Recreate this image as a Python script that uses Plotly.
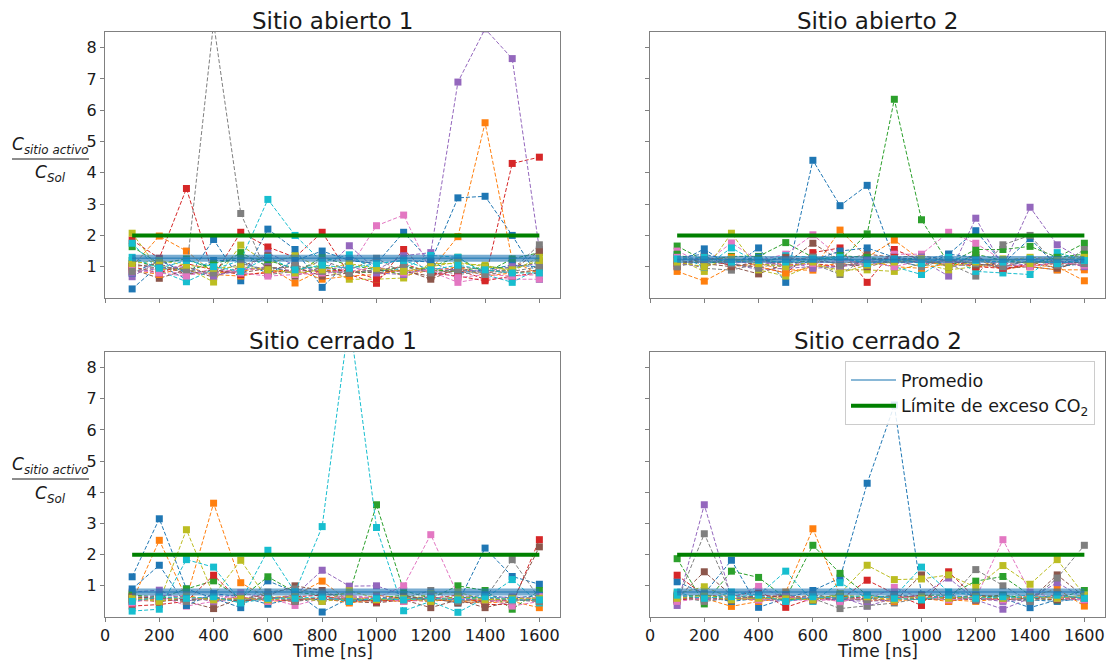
import plotly.graph_objects as go

# ---------------- data ----------------
times = [100, 200, 300, 400, 500, 600, 700, 800, 900, 1000, 1100, 1200, 1300, 1400, 1500, 1600]

TAB10 = ["#1f77b4", "#ff7f0e", "#2ca02c", "#d62728", "#9467bd",
         "#8c564b", "#e377c2", "#7f7f7f", "#bcbd22", "#17becf"]

panel_titles = ["Sitio abierto 1", "Sitio abierto 2", "Sitio cerrado 1", "Sitio cerrado 2"]

abierto1 = [
    [0.29, 1.05, 0.6, 1.87, 0.55, 2.2, 1.55, 0.34, 1.2, 1.1, 2.1, 1.15, 3.2, 3.25, 2.0, 0.6],
    [1.0, 1.98, 1.5, 0.8, 0.85, 1.0, 0.48, 0.9, 0.8, 1.0, 0.7, 0.9, 1.96, 5.6, 1.2, 0.75],
    [1.64, 1.1, 1.25, 0.9, 1.45, 1.0, 0.8, 1.3, 1.05, 0.9, 0.75, 1.0, 1.3, 0.8, 1.25, 1.45],
    [1.85, 1.27, 3.5, 0.7, 2.1, 1.63, 1.3, 2.1, 0.75, 0.47, 1.55, 0.7, 0.9, 0.6, 4.3, 4.5],
    [0.68, 1.2, 0.85, 0.75, 0.85, 1.43, 1.05, 0.8, 1.67, 0.9, 1.35, 1.45, 6.9, 8.6, 7.65, 1.55],
    [0.92, 0.63, 0.9, 0.67, 1.0, 1.35, 0.7, 1.0, 0.85, 0.8, 0.9, 0.6, 0.95, 0.8, 0.9, 1.5],
    [1.1, 0.9, 0.75, 0.8, 0.93, 0.9, 0.8, 0.75, 0.95, 2.31, 2.65, 0.85, 0.5, 0.65, 0.6, 0.6],
    [1.09, 0.95, 0.85, 8.8, 2.7, 0.75, 0.85, 1.2, 0.9, 1.27, 0.8, 0.95, 0.75, 0.85, 0.9, 1.7],
    [2.07, 0.9, 0.97, 0.51, 1.69, 1.1, 1.35, 0.95, 0.6, 0.6, 0.64, 1.1, 1.1, 1.05, 0.85, 1.3],
    [1.75, 0.87, 0.52, 0.92, 1.2, 3.15, 2.0, 1.15, 1.38, 0.85, 0.95, 1.36, 1.3, 0.75, 0.5, 0.95],
    [0.79, 1.2, 0.8, 1.2, 1.2, 0.78, 1.2, 1.5, 1.2, 1.1, 1.2, 1.15, 0.8, 0.9, 1.05, 1.0],
    [0.9, 0.75, 1.0, 0.75, 0.7, 0.85, 0.9, 0.6, 0.7, 0.75, 0.9, 0.85, 1.0, 0.7, 0.8, 0.85],
    [1.2, 1.0, 0.9, 1.1, 1.3, 1.2, 0.95, 1.0, 0.8, 0.85, 1.0, 0.9, 0.85, 1.0, 0.95, 1.15],
    [1.0, 0.8, 1.1, 0.9, 0.75, 0.8, 0.9, 0.85, 0.9, 0.6, 1.1, 0.8, 0.7, 0.55, 0.7, 0.8],
    [0.8, 0.95, 1.0, 0.7, 0.9, 1.0, 0.85, 0.9, 1.0, 0.8, 0.75, 0.95, 0.9, 0.85, 1.0, 1.1],
    [1.0, 1.1, 0.75, 0.9, 0.8, 0.95, 1.0, 0.7, 0.8, 0.9, 0.85, 0.7, 1.0, 0.9, 0.8, 0.9],
    [0.9, 0.8, 0.7, 0.95, 0.8, 0.7, 0.75, 0.8, 0.85, 1.0, 0.8, 0.9, 0.65, 0.75, 0.7, 0.75],
    [0.85, 1.0, 0.9, 0.8, 1.1, 0.9, 1.05, 0.85, 0.8, 0.9, 1.0, 0.8, 0.9, 0.75, 0.85, 1.0],
    [1.1, 1.2, 1.05, 0.95, 1.0, 0.9, 0.8, 0.9, 1.1, 0.95, 0.85, 1.0, 1.15, 1.0, 0.9, 1.2],
    [1.3, 0.95, 1.2, 1.0, 0.85, 1.3, 0.9, 1.05, 0.95, 1.1, 1.2, 0.9, 1.05, 0.9, 0.8, 0.8],
]

abierto2 = [
    [1.12, 1.57, 0.97, 1.6, 0.5, 4.4, 2.95, 3.6, 1.2, 1.0, 1.4, 2.15, 1.1, 1.9, 1.0, 1.1],
    [0.85, 0.54, 1.0, 1.1, 0.9, 0.89, 2.17, 1.3, 1.85, 1.2, 1.0, 1.25, 0.9, 1.05, 1.0, 0.55],
    [1.66, 1.2, 1.33, 1.33, 1.77, 1.3, 1.2, 2.05, 6.35, 2.5, 1.1, 1.55, 1.55, 1.65, 1.3, 1.75],
    [1.3, 1.2, 1.05, 1.0, 0.8, 1.45, 1.6, 0.5, 1.55, 1.2, 1.05, 1.35, 0.9, 1.1, 1.2, 1.0],
    [1.2, 1.3, 1.1, 0.9, 0.95, 1.0, 1.0, 1.1, 1.3, 1.2, 0.7, 2.55, 1.0, 2.9, 1.7, 1.2],
    [1.0, 1.35, 1.0, 0.77, 1.1, 1.75, 1.2, 1.4, 1.3, 1.35, 1.2, 1.1, 0.95, 1.0, 0.9, 1.3],
    [1.5, 1.1, 1.76, 1.2, 1.4, 2.02, 1.3, 1.0, 1.4, 1.4, 2.1, 1.75, 1.2, 1.25, 1.3, 1.1],
    [1.2, 0.95, 0.89, 1.1, 1.0, 1.1, 0.75, 1.3, 1.1, 1.2, 1.1, 0.7, 1.7, 2.0, 1.0, 1.55],
    [1.25, 0.85, 2.07, 0.9, 0.7, 1.05, 0.9, 0.9, 0.85, 1.1, 0.9, 1.0, 1.2, 1.3, 1.25, 1.35],
    [1.38, 0.99, 1.6, 1.12, 1.35, 1.3, 1.25, 1.15, 1.0, 0.75, 1.3, 0.85, 0.8, 0.75, 1.45, 1.2],
    [1.3, 1.4, 1.2, 1.3, 0.95, 1.2, 1.5, 1.6, 1.3, 1.2, 1.4, 1.3, 1.0, 1.2, 1.1, 1.25],
    [1.1, 1.2, 1.3, 1.0, 0.8, 1.0, 1.1, 1.2, 1.0, 0.95, 1.1, 1.0, 1.05, 1.0, 0.9, 0.9],
    [1.4, 1.1, 1.2, 1.25, 1.1, 1.2, 1.35, 1.3, 1.2, 1.3, 1.0, 1.4, 1.2, 1.1, 1.3, 1.4],
    [1.05, 1.3, 1.15, 1.2, 1.05, 1.1, 1.0, 1.2, 1.3, 1.1, 1.2, 1.0, 0.95, 1.05, 1.1, 1.15],
    [1.1, 1.0, 1.2, 1.05, 1.2, 0.95, 1.0, 1.2, 1.1, 1.3, 1.0, 1.1, 1.0, 1.1, 1.2, 1.0],
    [1.2, 1.1, 1.0, 1.15, 1.3, 1.2, 1.1, 1.0, 1.2, 1.15, 1.2, 1.05, 1.1, 1.15, 0.95, 1.2],
    [1.3, 1.2, 1.1, 1.2, 1.0, 1.1, 1.2, 1.15, 1.0, 1.2, 1.15, 1.2, 1.1, 1.0, 1.15, 1.05],
    [1.0, 1.2, 1.1, 0.95, 1.2, 1.3, 1.05, 1.1, 1.2, 1.0, 1.25, 1.1, 1.0, 1.2, 1.05, 1.1],
    [1.15, 1.0, 1.25, 1.1, 1.0, 1.15, 0.8, 1.05, 1.15, 1.25, 1.0, 1.15, 1.25, 1.1, 1.2, 1.3],
    [1.25, 1.3, 1.15, 1.2, 1.15, 1.25, 1.3, 1.1, 1.25, 1.1, 1.3, 1.2, 1.15, 1.25, 1.1, 1.2],
]

cerrado1 = [
    [1.29, 3.15, 0.9, 0.6, 0.3, 1.16, 0.8, 0.16, 0.6, 0.55, 0.6, 0.6, 0.45, 2.21, 1.3, 1.05],
    [0.5, 2.46, 0.6, 3.65, 1.1, 0.6, 0.7, 1.15, 0.5, 0.7, 0.6, 0.55, 0.5, 0.45, 0.5, 0.3],
    [0.65, 0.6, 0.9, 1.16, 0.6, 1.29, 0.8, 0.7, 0.75, 3.6, 0.85, 0.6, 1.0, 0.85, 0.25, 0.85],
    [0.35, 0.4, 0.5, 1.34, 0.5, 0.6, 0.65, 0.7, 0.5, 0.55, 0.5, 0.6, 0.7, 0.4, 0.4, 2.48],
    [0.8, 0.86, 0.5, 0.7, 0.6, 0.55, 0.7, 1.5, 0.99, 1.0, 0.7, 0.5, 0.6, 0.5, 0.55, 0.5],
    [0.56, 0.6, 0.5, 0.27, 0.6, 0.7, 1.0, 0.85, 0.5, 0.45, 0.55, 0.3, 0.55, 0.3, 0.5, 2.25],
    [0.45, 0.7, 0.35, 0.5, 0.78, 0.6, 0.37, 0.6, 0.7, 0.6, 1.0, 2.64, 0.7, 0.6, 0.35, 0.5],
    [0.6, 0.5, 0.57, 0.6, 0.5, 0.8, 0.9, 0.75, 0.6, 0.5, 0.6, 0.85, 0.5, 0.6, 1.84, 0.6],
    [0.75, 0.49, 2.8, 0.7, 1.82, 0.55, 0.6, 0.5, 0.84, 0.6, 0.5, 0.75, 0.8, 0.55, 0.5, 0.65],
    [0.19, 0.25, 1.84, 1.6, 0.5, 2.14, 0.8, 2.9, 9.6, 2.87, 0.2, 0.5, 0.15, 0.6, 1.2, 0.45],
    [0.9, 1.66, 0.37, 0.75, 0.65, 0.41, 0.6, 0.55, 0.6, 0.5, 0.6, 0.55, 0.6, 0.7, 0.6, 0.7],
    [0.6, 0.55, 0.7, 0.5, 0.65, 0.5, 0.55, 0.6, 0.45, 0.55, 0.5, 0.6, 0.5, 0.55, 0.6, 0.5],
    [0.7, 0.65, 0.55, 0.6, 0.5, 0.65, 0.6, 0.55, 0.65, 0.6, 0.7, 0.55, 0.65, 0.6, 0.5, 0.6],
    [0.55, 0.5, 0.6, 0.55, 0.6, 0.55, 0.5, 0.65, 0.55, 0.5, 0.55, 0.5, 0.6, 0.5, 0.55, 0.55],
    [0.6, 0.7, 0.65, 0.5, 0.55, 0.6, 0.65, 0.5, 0.6, 0.65, 0.6, 0.65, 0.55, 0.6, 0.65, 0.6],
    [0.65, 0.6, 0.55, 0.65, 0.5, 0.6, 0.55, 0.6, 0.5, 0.55, 0.65, 0.6, 0.45, 0.5, 0.6, 0.55],
    [0.5, 0.55, 0.6, 0.55, 0.65, 0.5, 0.6, 0.55, 0.65, 0.6, 0.5, 0.55, 0.6, 0.55, 0.5, 0.65],
    [0.55, 0.6, 0.5, 0.6, 0.55, 0.65, 0.5, 0.6, 0.55, 0.6, 0.55, 0.65, 0.5, 0.6, 0.55, 0.5],
    [0.6, 0.5, 0.65, 0.55, 0.6, 0.55, 0.65, 0.5, 0.6, 0.55, 0.6, 0.5, 0.65, 0.55, 0.6, 0.6],
    [0.5, 0.65, 0.6, 0.65, 0.45, 0.6, 0.6, 0.65, 0.5, 0.6, 0.55, 0.6, 0.55, 0.65, 0.55, 0.55],
]

cerrado2 = [
    [1.13, 0.75, 1.82, 0.31, 0.6, 0.85, 1.25, 4.29, 6.8, 0.7, 0.6, 0.7, 0.6, 0.3, 0.55, 0.55],
    [0.7, 0.6, 0.34, 0.5, 0.8, 2.83, 0.7, 0.5, 0.6, 0.65, 0.55, 0.5, 0.6, 0.65, 0.9, 0.35],
    [1.87, 0.42, 1.47, 1.27, 0.6, 2.3, 1.4, 0.7, 0.6, 0.7, 0.7, 1.15, 1.3, 0.7, 0.6, 0.85],
    [1.34, 0.7, 0.65, 0.85, 0.31, 0.6, 0.55, 1.18, 0.75, 0.37, 1.45, 0.6, 0.55, 0.6, 0.7, 0.6],
    [0.37, 3.6, 0.6, 0.55, 0.5, 0.6, 0.65, 0.35, 0.6, 0.7, 1.25, 0.55, 0.25, 0.6, 1.1, 0.6],
    [0.6, 1.45, 0.7, 0.6, 0.55, 0.65, 0.5, 0.6, 0.5, 1.35, 0.5, 0.65, 0.7, 0.55, 1.35, 0.65],
    [0.65, 0.7, 0.6, 0.98, 0.6, 0.5, 0.6, 0.55, 0.95, 0.6, 0.65, 0.6, 2.48, 0.8, 0.6, 0.7],
    [0.5, 2.67, 0.7, 0.6, 0.55, 0.6, 0.27, 0.35, 0.45, 0.6, 0.55, 1.52, 1.0, 0.5, 1.25, 2.3],
    [0.75, 0.97, 0.6, 0.6, 0.65, 0.55, 0.75, 1.66, 1.2, 1.22, 1.35, 0.95, 1.65, 1.05, 1.84, 0.7],
    [0.8, 0.55, 0.8, 0.7, 1.47, 0.5, 1.1, 0.6, 0.65, 1.6, 0.8, 0.7, 0.65, 0.7, 0.6, 0.7],
    [0.55, 0.65, 0.5, 0.6, 0.7, 0.6, 0.55, 0.6, 0.7, 0.65, 0.6, 0.55, 0.6, 0.55, 0.5, 0.6],
    [0.6, 0.55, 0.65, 0.5, 0.6, 0.7, 0.6, 0.55, 0.5, 0.6, 0.5, 0.65, 0.55, 0.6, 0.65, 0.55],
    [0.65, 0.7, 0.6, 0.65, 0.55, 0.6, 0.7, 0.6, 0.65, 0.55, 0.65, 0.6, 0.7, 0.6, 0.55, 0.65],
    [0.55, 0.6, 0.55, 0.7, 0.65, 0.55, 0.6, 0.65, 0.6, 0.7, 0.6, 0.55, 0.6, 0.65, 0.6, 0.55],
    [0.7, 0.55, 0.6, 0.55, 0.6, 0.65, 0.55, 0.5, 0.55, 0.6, 0.7, 0.6, 0.5, 0.55, 0.65, 0.6],
    [0.6, 0.65, 0.55, 0.6, 0.7, 0.55, 0.65, 0.6, 0.65, 0.55, 0.6, 0.7, 0.65, 0.6, 0.55, 0.65],
    [0.5, 0.6, 0.65, 0.55, 0.65, 0.6, 0.5, 0.65, 0.6, 0.65, 0.55, 0.6, 0.55, 0.7, 0.6, 0.55],
    [0.65, 0.5, 0.6, 0.65, 0.55, 0.7, 0.6, 0.55, 0.7, 0.6, 0.65, 0.55, 0.6, 0.5, 0.7, 0.6],
    [0.6, 0.7, 0.55, 0.6, 0.6, 0.55, 0.7, 0.65, 0.55, 0.65, 0.6, 0.65, 0.6, 0.65, 0.6, 0.7],
    [0.7, 0.6, 0.65, 0.7, 0.5, 0.65, 0.6, 0.7, 0.6, 0.55, 0.7, 0.6, 0.65, 0.6, 0.7, 0.6],
]

panels = [abierto1, abierto2, cerrado1, cerrado2]
promedio = [1.27, 1.23, 0.80, 0.80]
limite_co2 = 2.0

x_ticks = [0, 200, 400, 600, 800, 1000, 1200, 1400, 1600]
y_ticks = [1, 2, 3, 4, 5, 6, 7, 8]

# ---------------- layout geometry ----------------
# page body has an 8px margin, so the figure is sized/offset to fit the window
OFF = 8
W, H = 1115 - OFF, 661 - OFF
def px_x(p): return (p - OFF) / W
def px_y(p): return 1 - (p - OFF) / H

x_dom = [[px_x(105), px_x(560)], [px_x(650), px_x(1105)]]
y_dom = [[px_y(298), px_y(32)], [px_y(617), px_y(352)]]

FONT = "DejaVu Sans"
TXT = "#1a1a1a"

fig = go.Figure()

for p, data in enumerate(panels):
    ax = "" if p == 0 else str(p + 1)
    xref, yref = "x" + ax, "y" + ax
    for j, vals in enumerate(data):
        c = TAB10[j % 10]
        fig.add_trace(go.Scatter(
            x=times, y=vals, mode="lines+markers",
            line=dict(color=c, width=1, dash="4px,2px"),
            marker=dict(symbol="square", size=7, color=c),
            xaxis=xref, yaxis=yref, showlegend=False, hoverinfo="skip"))
    # average band + line
    m = promedio[p]
    fig.add_trace(go.Scatter(
        x=[times[0], times[-1]], y=[m, m], mode="lines",
        line=dict(color="rgba(31,119,180,0.6)", width=7),
        xaxis=xref, yaxis=yref, showlegend=False, hoverinfo="skip"))
    fig.add_trace(go.Scatter(
        x=[times[0], times[-1]], y=[m, m], mode="lines",
        line=dict(color="rgba(31,119,180,0.7)", width=1.5),
        name="Promedio", legendrank=1,
        xaxis=xref, yaxis=yref, showlegend=(p == 3), hoverinfo="skip"))
    fig.add_trace(go.Scatter(
        x=[times[0], times[-1]], y=[limite_co2, limite_co2], mode="lines",
        line=dict(color="#008000", width=4),
        name="Límite de exceso CO<sub>2</sub>", legendrank=2,
        xaxis=xref, yaxis=yref, showlegend=(p == 3), hoverinfo="skip"))

    row, col = p // 2, p % 2
    axis_common = dict(showline=True, linecolor="#808080", linewidth=1, mirror=True,
                       showgrid=False, zeroline=False, ticks="outside", ticklen=4,
                       tickcolor="#808080", automargin=False,
                       tickfont=dict(family=FONT, size=16, color=TXT))
    fig.layout["xaxis" + ax] = dict(
        domain=x_dom[col], anchor=yref, range=[0, 1676],
        tickvals=x_ticks, showticklabels=(row == 1),
        **axis_common)
    fig.layout["yaxis" + ax] = dict(
        domain=y_dom[row], anchor=xref, range=[0, 8.5],
        tickvals=y_ticks, showticklabels=(col == 0),
        **axis_common)

    # panel title
    fig.add_annotation(
        x=(x_dom[col][0] + x_dom[col][1]) / 2, y=y_dom[row][1],
        xref="paper", yref="paper", xanchor="center", yanchor="bottom", yshift=-3,
        text=panel_titles[p], showarrow=False, borderpad=0,
        font=dict(family=FONT, size=23, color=TXT))
    if row == 1:
        fig.add_annotation(
            x=(x_dom[col][0] + x_dom[col][1]) / 2, y=px_y(651),
            xref="paper", yref="paper", xanchor="center", yanchor="middle",
            text="Time [ns]", showarrow=False, borderpad=0,
            font=dict(family=FONT, size=17, color=TXT))

# y-axis fraction labels
for row in range(2):
    off = 0 if row == 0 else 320
    fig.add_annotation(
        x=px_x(50), y=px_y(145 + off), xref="paper", yref="paper",
        xanchor="center", yanchor="middle", showarrow=False,
        text="<i>C</i><sub><i>sitio activo</i></sub>",
        font=dict(family=FONT, size=17, color=TXT))
    fig.add_annotation(
        x=px_x(50), y=px_y(174 + off), xref="paper", yref="paper",
        xanchor="center", yanchor="middle", showarrow=False,
        text="<i>C</i><sub><i>Sol</i></sub>",
        font=dict(family=FONT, size=17, color=TXT))
    fig.add_shape(type="line", xref="paper", yref="paper",
                  x0=px_x(12), x1=px_x(89), y0=px_y(159 + off), y1=px_y(159 + off),
                  line=dict(color=TXT, width=1))

fig.update_layout(
    width=W, height=H,
    margin=dict(l=0, r=0, t=0, b=0, autoexpand=False),
    paper_bgcolor="white", plot_bgcolor="white",
    font=dict(family=FONT, color=TXT),
    legend=dict(x=px_x(1095), y=px_y(361), xanchor="right", yanchor="top",
                bgcolor="rgba(255,255,255,0.85)", bordercolor="#cccccc", borderwidth=1,
                font=dict(family=FONT, size=17.5, color=TXT), tracegroupgap=2,
                itemwidth=45),
)

fig.write_html("out.html")
